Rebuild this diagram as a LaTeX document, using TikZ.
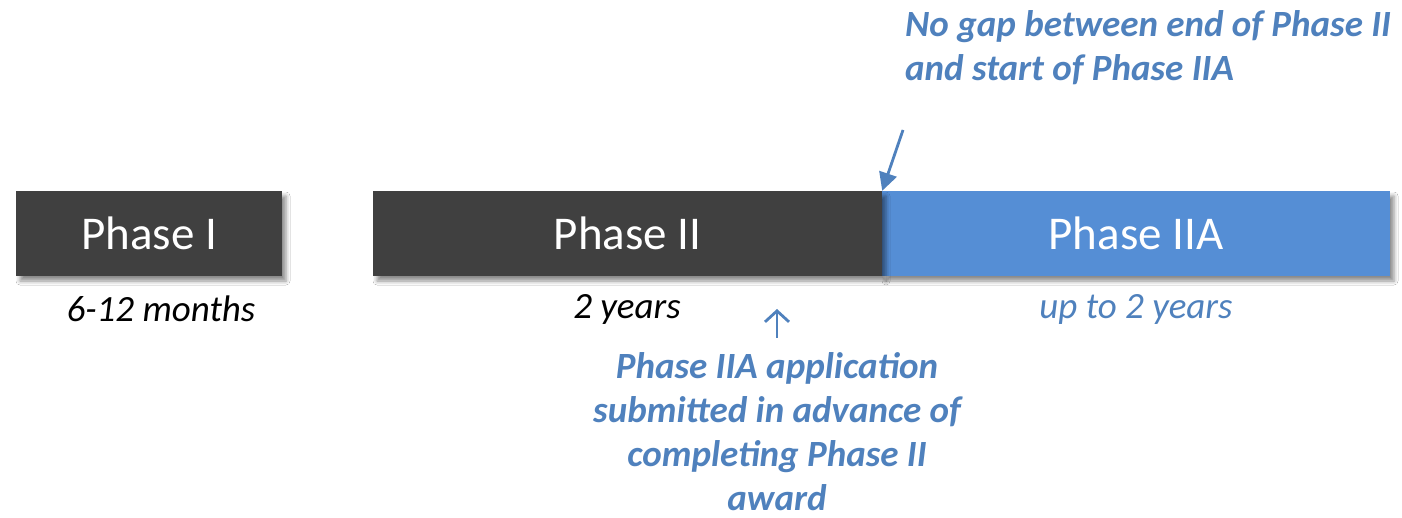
\documentclass[tikz,border=0pt]{standalone}
\usepackage{fontspec}
\setmainfont{Carlito}
\usetikzlibrary{shadows.blur,arrows.meta}
\definecolor{darkbox}{HTML}{404040}
\definecolor{bluebox}{HTML}{558ED5}
\definecolor{bluetext}{HTML}{4F81BD}
\begin{document}
\begin{tikzpicture}[x=1pt,y=-1pt,
  phasebox/.style={rectangle, inner sep=0pt, text=white, font=\fontsize{47}{52}\selectfont,
    blur shadow={shadow xshift=4pt, shadow yshift=-5pt, shadow blur radius=4pt, shadow opacity=45}},
  durlabel/.style={font=\fontsize{37}{44}\selectfont\itshape, inner sep=0pt},
  note/.style={font=\fontsize{37}{44}\selectfont\bfseries\itshape, text=bluetext, inner sep=0pt},
  callout/.style={draw=bluetext, line width=2.8pt}
]
\useasboundingbox (0,0) rectangle (1402,518);
\fill[white] (0,0) rectangle (1402,518);

\node[phasebox, fill=darkbox, minimum width=266pt, minimum height=85pt] (p1) at (149,233.5) {Phase I};
\node[phasebox, fill=bluebox, minimum width=508pt, minimum height=85pt] (p2a) at (1136,233.5) {Phase IIA};
\node[phasebox, fill=darkbox, minimum width=509pt, minimum height=85pt] (p2) at (627.5,233.5) {Phase II};

\node[durlabel] (d1) at (161,309) {6-12 months};
\node[durlabel] (d2) at (627,309) {2 years};
\node[durlabel, text=bluetext] (d3) at (1136,309) {up to 2 years};

\node[note, align=left, anchor=north west] (topnote) at (905,10) {No gap between end of Phase II\\and start of Phase IIA};
\node[note, align=center, anchor=north] (botnote) at (777,352) {Phase IIA application\\submitted in advance of\\completing Phase II\\award};

\coordinate (c1) at (903,130);
\coordinate (c2) at (777,338);
\coordinate (c2t) at (777,309);
\draw[callout, -{Triangle[length=18pt,width=18pt]}] (c1) -- (p2.north east);
\draw[callout, -{Straight Barb[length=11pt,width=24pt]}] (c2) -- (c2t);
\end{tikzpicture}
\end{document}
